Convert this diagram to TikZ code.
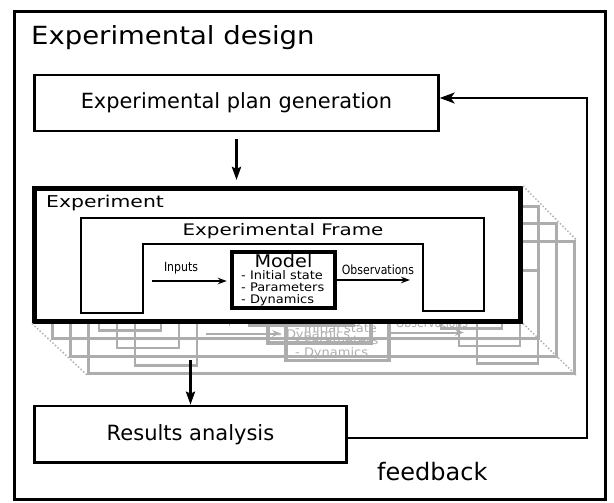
\documentclass[tikz,border=0pt]{standalone}
\usepackage{fontspec}
\setmainfont{DejaVu Sans}
\newfontfamily\widefont[FakeStretch=1.25]{DejaVu Sans}
\newfontfamily\titlefont[FakeStretch=1.1]{DejaVu Sans}
\newfontfamily\condfont[FakeStretch=0.86]{DejaVu Sans}
\usetikzlibrary{arrows.meta}

% one experiment: box, frame, model and signals
\newcommand{\experimentparts}{%
  \node[expbox] (exp) at (277.5,254.75) {};
  \node[explabel] (explabel) at (46,207) {Experiment};
  \draw[framebox] (81,218) -- (484,218) -- (484,311) -- (423,311) -- (423,244)
    -- (143,244) -- (143,313) -- (81,313) -- cycle;
  \node[framelabel] (framelabel) at (283,235) {Experimental Frame};
  \node[modelbox] (model) at (283.5,280) {};
  \node[modeltitle] (modeltitle) at (283.5,267.7) {Model};
  \node[modelitem] (initial) at (241,279.5) {- Initial state};
  \node[modelitem] (params) at (241,291.5) {- Parameters};
  \node[modelitem] (dynamics) at (241,303.5) {- Dynamics};
  \coordinate (inpstart) at (152,281);
  \coordinate (obsend) at (413,280);
  \draw[signal] (inpstart) -- (model.west |- inpstart);
  \draw[signal] (model.east |- obsend) -- (obsend);
  \node[siglabel] (inputs) at (181,268) {Inputs};
  \node[siglabel] (observations) at (378,270) {Observations};
}

\begin{document}
\begin{tikzpicture}[
    x=1pt, y=-1pt,
    box/.style={draw, line width=2.5pt, inner sep=0pt},
    planbox/.style={box, minimum width=404pt, minimum height=56pt, font=\fontsize{20.9}{24}\selectfont},
    resultbox/.style={box, minimum width=312pt, minimum height=56.7pt, font=\fontsize{21}{24}\selectfont},
    designbox/.style={draw, line width=3pt, minimum width=591pt, minimum height=487pt},
    expbox/.style={draw, fill=white, line width=5pt, minimum width=486pt, minimum height=132.5pt},
    framebox/.style={line width=2.2pt, line join=miter},
    modelbox/.style={draw, line width=4.5pt, minimum width=103pt, minimum height=56pt},
    explabel/.style={anchor=base west, inner sep=0pt, font=\widefont\fontsize{16.3}{19}\selectfont},
    framelabel/.style={anchor=base, inner sep=0pt, font=\widefont\fontsize{15.9}{19}\selectfont},
    modeltitle/.style={anchor=base, inner sep=0pt, font=\titlefont\fontsize{17.5}{20}\selectfont},
    modelitem/.style={anchor=base west, inner sep=0pt, font=\titlefont\fontsize{11.8}{13}\selectfont},
    siglabel/.style={inner sep=0pt, font=\condfont\fontsize{12.7}{15}\selectfont},
    signal/.style={-{Stealth[length=9pt, width=6.5pt]}, line width=2pt, shorten >=3pt, shorten <=0pt},
    flow/.style={-{Stealth[length=13pt, width=9pt, inset=2pt]}, line width=3pt},
    link/.style={-{Stealth[length=15pt, width=11pt, inset=4pt]}, line width=2pt},
    guide/.style={black!30, line width=1.5pt, dotted},
    ghost/.style={color=black!32, expbox/.append style={fill=none, line width=3pt},
      framebox/.append style={line width=2.8pt}, modelbox/.append style={line width=3.5pt}}
]
\useasboundingbox (0,0) rectangle (614,503);

\node[designbox] (design) at (310,255.5) {};
\node[anchor=base west, inner sep=0pt, font=\titlefont\fontsize{25}{29}\selectfont] (designlabel) at (31,45) {Experimental design};

\node[planbox] (plan) at (236.5,103) {Experimental plan generation};
\node[resultbox] (results) at (190.5,434.3) {Results analysis};

% stacked copies behind the experiment
\foreach \i/\dx/\dy in {3/54/52.5, 2/36/35, 1/18/17.5} {
  \begin{scope}[shift={(\dx,\dy)}, name prefix=ghost\i-, ghost]
    \experimentparts
  \end{scope}
}

\experimentparts

\draw[guide] (exp.north east) -- (ghost3-exp.north east);
\draw[guide] (exp.south east) -- (ghost3-exp.south east);
\draw[guide] (exp.south west) -- (ghost3-exp.south west);

\draw[flow, shorten <=7pt, shorten >=6pt] (plan.south) -- (plan.south |- exp.north);
\draw[flow, shorten <=36pt] (exp.south -| results.north) -- (results.north);

\coordinate (fb) at (587,98);
\draw[link] ([yshift=-3.5pt]results.east) -| (fb) -- ([yshift=5pt]plan.east);
\node[anchor=base west, inner sep=0pt, font=\fontsize{24}{28}\selectfont] (feedback) at (377,480.5) {feedback};
\end{tikzpicture}
\end{document}
